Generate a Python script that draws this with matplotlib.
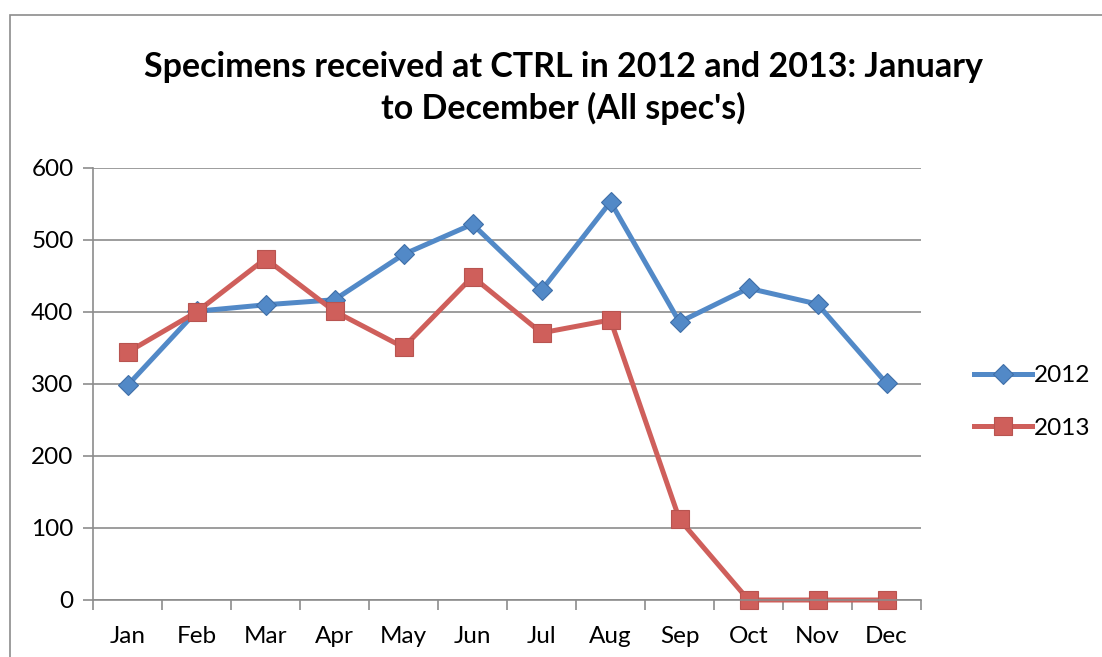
import matplotlib.pyplot as plt
from matplotlib.patches import Rectangle

# data
months = ['Jan', 'Feb', 'Mar', 'Apr', 'May', 'Jun', 'Jul', 'Aug', 'Sep', 'Oct', 'Nov', 'Dec']
y2012 = [298, 401, 410, 417, 480, 522, 430, 553, 386, 433, 411, 301]
y2013 = [344, 400, 474, 401, 351, 449, 371, 389, 112, 0, 0, 0]
yticks = [0, 100, 200, 300, 400, 500, 600]

plt.rcParams['font.family'] = ['Lato', 'DejaVu Sans']

fig = plt.figure(figsize=(11.02, 6.57), dpi=100)
# outer chart frame
fig.patches.append(Rectangle((10 / 1102, -0.1), 1.2, 1.1 - 15 / 657, transform=fig.transFigure,
                             fill=False, edgecolor='#8c8c8c', linewidth=1.2))

ax = fig.add_axes([93 / 1102, 57 / 657, 828 / 1102, 432 / 657])
x = range(len(months))

l1, = ax.plot(x, y2012, color='#5289C7', linewidth=3.6, marker='D', markersize=10, clip_on=False,
              markerfacecolor='#5289C7', markeredgecolor='#3f6fa8', markeredgewidth=0.8, label='2012')
l2, = ax.plot(x, y2013, color='#CF5F5B', linewidth=3.6, marker='s', markersize=13, clip_on=False,
              markerfacecolor='#CF5F5B', markeredgecolor='#b85450', markeredgewidth=0.8, label='2013')

ax.set_xlim(-0.5, len(months) - 0.5)
ax.set_ylim(0, 600)
ax.set_yticks(yticks)
ax.set_xticks([i - 0.5 for i in range(len(months) + 1)], minor=False)
ax.set_xticklabels([])
ax.set_xticks(list(x), minor=True)
ax.set_xticklabels(months, minor=True)
ax.tick_params(axis='x', which='major', length=7, width=1.2, color='#8c8c8c', direction='out')
ax.tick_params(axis='x', which='minor', length=0, labelsize=17.5, pad=19)
ax.tick_params(axis='y', length=7, width=1.2, color='#8c8c8c', labelsize=17.5, pad=7)
ax.grid(axis='y', color='#8c8c8c', linewidth=1.2)
ax.set_axisbelow(True)
for s in ['top', 'right']:
    ax.spines[s].set_visible(False)
for s in ['left', 'bottom']:
    ax.spines[s].set_color('#8c8c8c')
    ax.spines[s].set_linewidth(1.2)

fig.text(563 / 1102, 1 - 88 / 657, "Specimens received at CTRL in 2012 and 2013: January\nto December (All spec's)",
         ha='center', va='center', fontsize=24.5, fontweight='bold', linespacing=1.35)

fig.legend(handles=[l1, l2], loc='center left', bbox_to_anchor=(952 / 1102, 1 - 402 / 657),
           frameon=False, fontsize=17.5, handlelength=2.4, handletextpad=0.05, labelspacing=1.3)

fig.savefig('out.png', dpi=100)
